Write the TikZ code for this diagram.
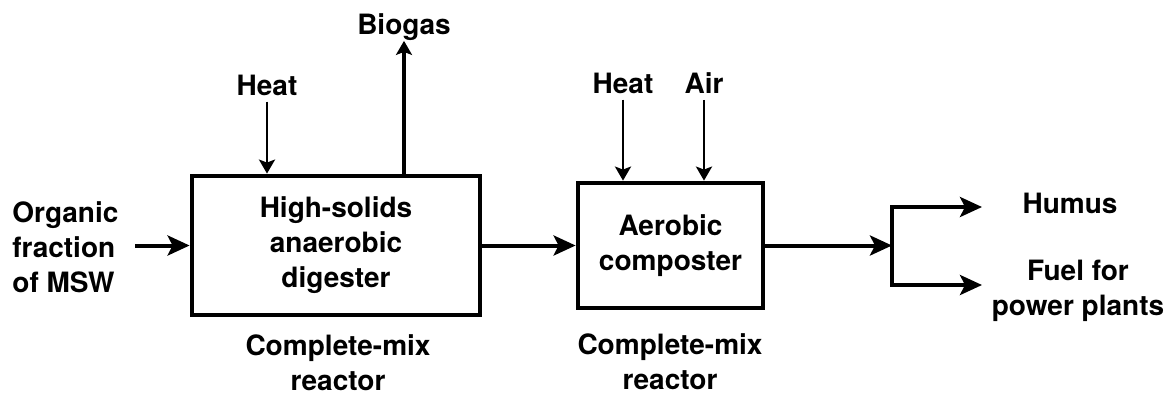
\documentclass[tikz,border=0pt]{standalone}
\usepackage{fontspec}
\setmainfont{TeX Gyre Heros}
\usetikzlibrary{arrows.meta}

\begin{document}
\begin{tikzpicture}[x=0.5pt, y=-0.5pt,
	font=\bfseries\fontsize{14}{17.5}\selectfont,
	unit/.style={draw, line width=2.4pt, inner sep=0pt, align=center},
	txt/.style={inner sep=0pt, align=center},
	flow/.style={line width=2pt, -{Stealth[length=11pt, width=10pt, inset=2.5pt]}},
	feed/.style={line width=1.4pt, -{Stealth[length=7pt, width=8pt, inset=1.5pt]}}]

	\useasboundingbox (0, 0) rectangle (1167, 397);

	\node (digester) [unit, minimum width=144pt, minimum height=69.5pt] at (336, 245.5) {High-solids\\anaerobic\\digester};
	\node (composter) [unit, minimum width=92.5pt, minimum height=62.5pt] at (670.5, 245.5) {Aerobic\\composter};

	\node (msw) [txt, anchor=west, align=left] at (12, 247) {Organic\\fraction\\of MSW};
	\node (heat1) [txt] at (267, 85) {Heat};
	\node (biogas) [txt] at (404, 27) {Biogas};
	\node (heat2) [txt] at (623, 83) {Heat};
	\node (air) [txt] at (704, 83) {Air};
	\node (humus) [txt] at (1070, 203) {Humus};
	\node (fuel) [txt] at (1078, 291) {Fuel for\\power plants};
	\node (cmix1) [txt] at (338, 363) {Complete-mix\\reactor};
	\node (cmix2) [txt] at (670, 362) {Complete-mix\\reactor};

	\coordinate (in) at (135, 245.5);
	\coordinate (split) at (892, 245.5);
	\coordinate (hum) at (982, 207);
	\coordinate (pow) at (982, 285);

	\path[flow]
	(in) edge (digester)
	(digester) edge (composter)
	(composter.east) edge (split);

	\path[feed, shorten <=3pt]
	(heat1) edge (heat1 |- digester.north)
	(heat2) edge (heat2 |- composter.north)
	(air) edge (air |- composter.north);

	\draw[feed, line width=1.7pt] (biogas.south |- digester.north) -- (biogas.south);

	\draw[flow] (split) |- (hum);
	\draw[flow] (split) |- (pow);

\end{tikzpicture}
\end{document}
